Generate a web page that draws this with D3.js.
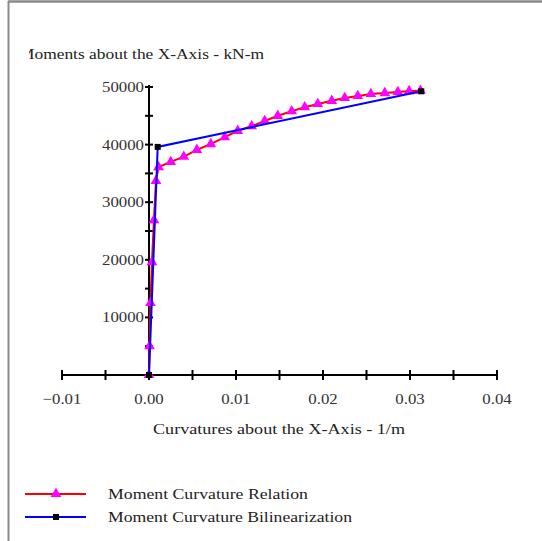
<!DOCTYPE html>
<html><head><meta charset="utf-8">
<script src="https://cdn.jsdelivr.net/npm/d3@7/dist/d3.min.js"></script>
<style>body{margin:0;background:#fff;}svg{display:block;}</style>
</head><body><svg id="c" width="542" height="541"></svg>
<script>
const relationCurv = [0, 0.00006, 0.00017, 0.00034, 0.00057, 0.0008, 0.0011, 0.0025, 0.004, 0.0055, 0.0071, 0.0087, 0.0102, 0.0118, 0.0133, 0.0148, 0.0164, 0.0179, 0.0194, 0.021, 0.0225, 0.024, 0.0255, 0.0271, 0.0286, 0.0299, 0.0312];
const relationMoment = [0, 5000, 12500, 19600, 26900, 33700, 36100, 37000, 37900, 39100, 40100, 41300, 42400, 43200, 44100, 45000, 45800, 46500, 47050, 47600, 48100, 48450, 48800, 48950, 49150, 49300, 49350];
const bilinCurv = [0, 0.001, 0.0313];
const bilinMoment = [0, 39600, 49250];
const xTicks = [-0.01, 0.00, 0.01, 0.02, 0.03, 0.04];
const yTicks = [10000, 20000, 30000, 40000, 50000];
const seriesNames = ["Moment Curvature Relation", "Moment Curvature Bilinearization"];

const svg = d3.select("#c");
const font = "'Liberation Serif','Times New Roman',serif";
const x = d3.scaleLinear().domain([-0.01, 0.04]).range([62, 497]);
const y = d3.scaleLinear().domain([0, 50000]).range([375, 87]);

function stretch(sel, f){
  sel.each(function(){ const w=this.getComputedTextLength(); d3.select(this).attr("textLength", w*f).attr("lengthAdjust","spacingAndGlyphs"); });
}

// frame
svg.append("line").attr("x1",8).attr("x2",542).attr("y1",1.5).attr("y2",1.5).attr("stroke","#8a8a8a").attr("stroke-width",2.5);
svg.append("line").attr("x1",8.5).attr("x2",8.5).attr("y1",1).attr("y2",541).attr("stroke","#8a8a8a").attr("stroke-width",2);

// axes lines
svg.append("line").attr("x1",x(-0.01)).attr("x2",x(0.04)).attr("y1",y(0)).attr("y2",y(0)).attr("stroke","#000").attr("stroke-width",2);
svg.append("line").attr("x1",x(0)).attr("x2",x(0)).attr("y1",y(0)).attr("y2",y(50000)-2).attr("stroke","#000").attr("stroke-width",2);

const xMinor = d3.range(-0.01, 0.04001, 0.005);
svg.append("g").selectAll("line").data(xMinor).join("line")
  .attr("x1",d=>x(d)).attr("x2",d=>x(d)).attr("y1",y(0)-5).attr("y2",y(0)+5)
  .attr("stroke","#000").attr("stroke-width",2);
const yMinor = d3.range(5000, 50001, 5000);
svg.append("g").selectAll("line").data(yMinor).join("line")
  .attr("x1",x(0)-4).attr("x2",x(0)+4).attr("y1",d=>y(d)).attr("y2",d=>y(d))
  .attr("stroke","#000").attr("stroke-width",2);

const xl = svg.append("g").selectAll("text").data(xTicks).join("text")
  .attr("x",d=>x(d)).attr("y",y(0)+29).attr("text-anchor","middle")
  .attr("font-family",font).attr("font-size",15).attr("fill","#333")
  .text(d=>d3.format(".2f")(d));
stretch(xl, 1.12);
const yl = svg.append("g").selectAll("text").data(yTicks).join("text")
  .attr("x",x(0)-5).attr("y",d=>y(d)+5).attr("text-anchor","end")
  .attr("font-family",font).attr("font-size",15).attr("fill","#333")
  .text(d=>d);
stretch(yl, 1.12);

// titles
svg.append("text").attr("x",153).attr("y",434)
  .attr("font-family",font).attr("font-size",15).attr("fill","#222")
  .attr("textLength",252).attr("lengthAdjust","spacingAndGlyphs")
  .text("Curvatures about the X-Axis - 1/m");
svg.append("clipPath").attr("id","tc").append("rect").attr("x",29).attr("y",0).attr("width",500).attr("height",100);
svg.append("text").attr("x",19).attr("y",59).attr("clip-path","url(#tc)")
  .attr("font-family",font).attr("font-size",15).attr("fill","#222")
  .attr("textLength",245).attr("lengthAdjust","spacingAndGlyphs")
  .text("Moments about the X-Axis - kN-m");

// series
const rel = relationCurv.map((c,i)=>[c, relationMoment[i]]);
const bil = bilinCurv.map((c,i)=>[c, bilinMoment[i]]);
const line = d3.line().x(d=>x(d[0])).y(d=>y(d[1]));
const tri = d3.symbol().type(d3.symbolTriangle).size(50);
const sq = d3.symbol().type(d3.symbolSquare).size(36);

svg.append("path").attr("d",line(rel)).attr("fill","none").attr("stroke","#ff0000").attr("stroke-width",2);
svg.append("g").selectAll("path").data(rel).join("path")
  .attr("d",tri).attr("transform",d=>`translate(${x(d[0])},${y(d[1])})`).attr("fill","#ff00ff");
svg.append("path").attr("d",line(bil)).attr("fill","none").attr("stroke","#0000ff").attr("stroke-width",2);
svg.append("g").selectAll("path").data(bil).join("path")
  .attr("d",sq).attr("transform",d=>`translate(${x(d[0])},${y(d[1])})`).attr("fill","#000");

// legend
const lg = svg.append("g");
const items = [{c:"#ff0000", m:tri, mc:"#ff00ff", yy:494, w:200},{c:"#0000ff", m:sq, mc:"#000", yy:517, w:244}];
items.forEach((it,i)=>{
  lg.append("line").attr("x1",25).attr("x2",86).attr("y1",it.yy).attr("y2",it.yy).attr("stroke",it.c).attr("stroke-width",2);
  lg.append("path").attr("d",it.m).attr("transform",`translate(56,${it.yy})`).attr("fill",it.mc);
  lg.append("text").attr("x",108).attr("y",it.yy+5).attr("font-family",font).attr("font-size",15).attr("fill","#222")
    .attr("textLength",it.w).attr("lengthAdjust","spacingAndGlyphs").text(seriesNames[i]);
});
</script></body></html>
